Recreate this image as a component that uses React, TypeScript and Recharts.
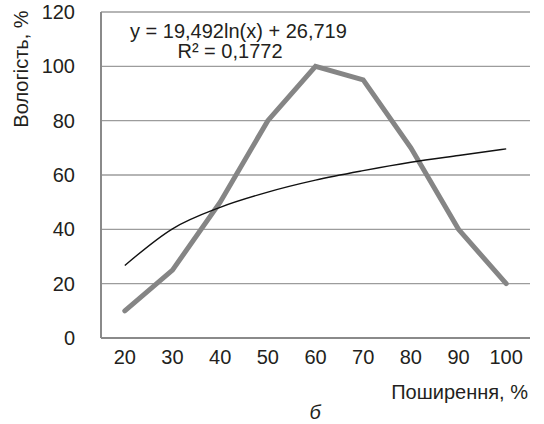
import { LineChart, Line, XAxis, YAxis, CartesianGrid, Label } from "recharts";

const categories = ["20", "30", "40", "50", "60", "70", "80", "90", "100"];
const moisture = [10, 25, 50, 80, 100, 95, 70, 40, 20];
// logarithmic trend
const trend = [26.7, 40.2, 48.1, 53.7, 58.1, 61.6, 64.7, 67.2, 69.6];
const yTicks = [0, 20, 40, 60, 80, 100, 120];

const FONT = "'Liberation Sans', Arial, sans-serif";

const data = categories.map((c, i) => ({ x: c, moisture: moisture[i], trend: trend[i] }));

export default function App() {
  return (
    <div style={{ position: "absolute", left: 0, top: 0, width: 544, height: 424, fontFamily: FONT }}>
      <LineChart
        width={544}
        height={424}
        data={data}
        margin={{ top: 12, right: 14, left: 0, bottom: 0 }}
      >
        <CartesianGrid vertical={false} stroke="#9c9c9c" strokeWidth={1.3} />
        <XAxis
          dataKey="x"
          height={86}
          padding={{ left: 23.8, right: 23.8 }}
          tickLine={false}
          tickSize={0}
          tickMargin={12}
          axisLine={{ stroke: "#8a8a8a", strokeWidth: 2 }}
          tick={{ fill: "#231f20", fontSize: 20, fontFamily: FONT }}
        >
          <Label
            content={() => (
              <g fontFamily={FONT} fill="#231f20">
                <text x={528} y={399} fontSize={20} textAnchor="end">
                  Поширення, %
                </text>
                <text x={315} y={419} fontSize={20} textAnchor="middle" fontStyle="italic">
                  б
                </text>
              </g>
            )}
          />
        </XAxis>
        <YAxis
          width={101}
          domain={[0, 120]}
          ticks={yTicks}
          tickLine={false}
          tickSize={0}
          tickMargin={26}
          axisLine={{ stroke: "#8a8a8a", strokeWidth: 2 }}
          tick={{ fill: "#231f20", fontSize: 20, fontFamily: FONT }}
        >
          <Label
            content={() => (
              <text
                x={28}
                y={69}
                fontSize={20}
                fontFamily={FONT}
                fill="#231f20"
                textAnchor="middle"
                transform="rotate(-90 28 69)"
              >
                Вологість, %
              </text>
            )}
          />
        </YAxis>
        <Line
          dataKey="moisture"
          stroke="#858585"
          strokeWidth={5}
          strokeLinecap="round"
          dot={false}
          activeDot={false}
          isAnimationActive={false}
        />
        <Line
          dataKey="trend"
          type="monotone"
          stroke="#111111"
          strokeWidth={1.4}
          dot={false}
          activeDot={false}
          isAnimationActive={false}
        />
      </LineChart>
      <div
        style={{
          position: "absolute",
          left: 130,
          width: 200,
          top: 21,
          textAlign: "center",
          fontSize: 20,
          lineHeight: "20px",
          color: "#231f20",
          whiteSpace: "nowrap",
        }}
      >
        <div>y = 19,492ln(x) + 26,719</div>
        <div>R² = 0,1772</div>
      </div>
    </div>
  );
}
